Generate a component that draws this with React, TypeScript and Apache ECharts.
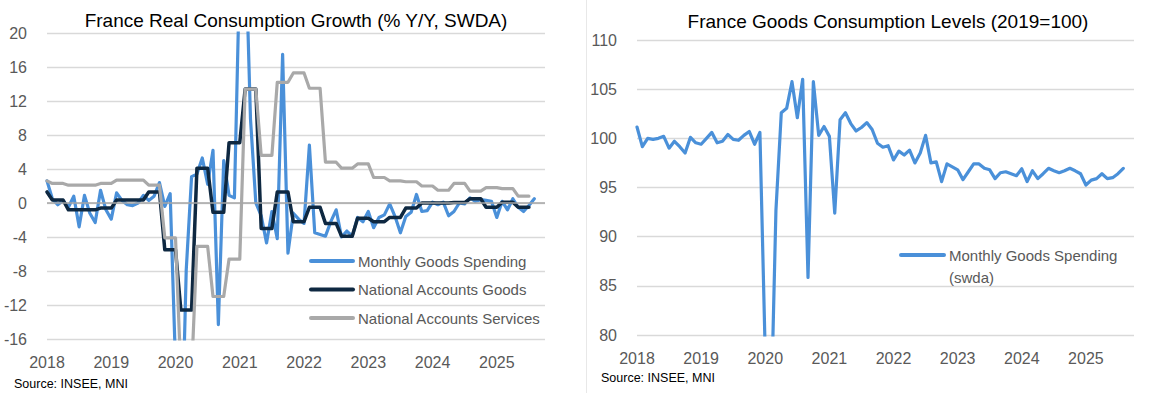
import React, { useEffect, useRef } from "react";
import * as echarts from "echarts";

// Monthly categories: Mar 2018 .. Dec 2025 (94 slots; data runs to Oct 2025)
const START_YEAR = 2018;
const START_MONTH = 3;
const N_SLOTS = 94;
const categories: string[] = [];
for (let i = 0; i < N_SLOTS; i++) {
  const k = START_MONTH - 1 + i;
  const y = START_YEAR + Math.floor(k / 12);
  const mo = (k % 12) + 1;
  categories.push(`${y}-${mo < 10 ? "0" + mo : mo}`);
}

// Left: Monthly goods spending, % y/y (Mar 2018 .. Oct 2025)
const goodsYoY: number[] = [
  2.6, 0.5, -0.2, 0.3, -0.5, 0.8, -2.8, 0.9, -1.2, -2.3,
  1.5, -0.8, -1.9, 1.2, 0.3, -0.2, -0.3, 0.0, 0.9, 0.3,
  0.8, 2.4, -0.4, 1.1, -19.0, -33.0, -7.9, 3.1, 3.4, 5.3,
  2.2, 6.2, -14.3, 5.0, 0.9, 0.6, 28.0, 32.0, 9.9, 0.0,
  -1.5, -4.7, -1.0, -4.2, 17.5, -5.9, -1.2, -1.9, -2.4, 6.8,
  -3.5, -3.7, -3.9, -2.2, -0.8, -4.0, -3.3, -3.9, -1.7, -2.2,
  -1.0, -2.9, -1.7, -1.4, -0.1, -1.6, -3.5, -1.6, -1.1, 1.0,
  -1.0, -0.9, 0.1, -0.2, 0.1, -1.5, -1.0, 0.0, -0.1, 0.6,
  0.2, 0.4, 0.3, 0.2, -1.7, 0.2, -0.8, 0.5, -0.5, -1.0,
  -0.3, 0.5,
];

// Left: National accounts goods, % y/y, quarterly Q1 2018 .. Q3 2025
const naGoodsQ: number[] = [
  1.3, 0.35, -0.8, -0.8, -0.6, 0.35, 0.35, 1.3, -5.5, -12.6,
  4.1, -1.1, 7.1, 13.4, -3.0, 1.3, -2.2, -0.5, -2.4, -3.9,
  -1.8, -2.2, -1.7, -0.6, 0.0, 0.0, 0.05, 0.5, -0.5, 0.1,
  -0.5,
];

// Left: National accounts services, % y/y, quarterly Q1 2018 .. Q3 2025
const naServicesQ: number[] = [
  2.6, 2.3, 2.1, 2.1, 2.3, 2.7, 2.7, 2.1, -4.1, -20.0,
  -5.1, -11.0, -6.6, 13.4, 5.6, 14.2, 15.3, 13.5, 4.8, 4.1,
  4.6, 3.0, 2.6, 2.5, 2.0, 1.5, 2.3, 1.4, 1.8, 1.7,
  0.8,
];

// Right: Goods consumption level (2019=100), Mar 2018 .. Oct 2025
const goodsLevel: number[] = [
  101.15, 99.15, 100.0, 99.9, 100.0, 100.2, 99.0, 99.7, 99.15, 98.5,
  100.1, 99.55, 99.4, 100.0, 100.6, 99.55, 99.7, 100.4, 99.9, 99.8,
  100.3, 100.7, 99.4, 100.6, 78.0, 70.0, 92.7, 102.6, 103.05, 105.76,
  102.1, 106.0, 85.86, 105.76, 100.3, 101.2, 100.2, 92.4, 101.9, 102.6,
  101.5, 100.75, 101.1, 101.6, 100.9, 99.5, 99.1, 99.25, 97.8, 98.7,
  98.3, 98.8, 97.5, 98.5, 100.3, 97.5, 97.6, 95.6, 97.4, 97.1,
  96.8, 95.8, 96.6, 97.4, 97.4, 96.95, 96.8, 95.9, 96.5, 96.6,
  96.4, 96.2, 96.9, 95.6, 96.7, 95.9, 96.4, 96.95, 96.7, 96.5,
  96.7, 96.95, 96.7, 96.4, 95.25, 95.75, 95.9, 96.4, 95.9, 96.0,
  96.4, 96.95,
];

const LEFT_TITLE = "France Real Consumption Growth (% Y/Y, SWDA)";
const RIGHT_TITLE = "France Goods Consumption Levels (2019=100)";
const SOURCE = "Source: INSEE, MNI";
const LEFT_NAMES = ["Monthly Goods Spending", "National Accounts Goods", "National Accounts Services"];
const RIGHT_NAME = "Monthly Goods Spending (swda)";

// expand quarterly values to the monthly slots (each month of a quarter holds its value)
function expandQuarterly(q: number[]): (number | null)[] {
  const out: (number | null)[] = [];
  for (let m = 0; m < N_SLOTS; m++) {
    const qi = Math.floor((m + START_MONTH - 1) / 3);
    out.push(qi < q.length ? q[qi] : null);
  }
  return out;
}

const FONT = "'Liberation Sans', Arial, sans-serif";
const BLUE = "#4a90d9";
const NAVY = "#0e2841";
const GRAY = "#a9a9a9";
const GRID = "#d9d9d9";
const LABEL = "#595959";

export default function App() {
  const ref = useRef<HTMLDivElement>(null);
  useEffect(() => {
    if (!ref.current) return;
    const chart = echarts.init(ref.current, null, { renderer: "svg" });
    const xAxisBase = (gridIndex: number) => ({
      type: "category",
      gridIndex,
      data: categories,
      boundaryGap: false,
      axisLine: { show: false },
      axisTick: { show: false },
      splitLine: { show: false },
      axisLabel: {
        interval: (i: number) => i % 12 === 0,
        formatter: (v: string) => v.slice(0, 4),
        fontSize: 16,
        color: LABEL,
        fontFamily: FONT,
        margin: 15,
      },
    });
    const yAxisBase = (gridIndex: number, min: number, max: number, interval: number) => ({
      type: "value",
      gridIndex,
      min,
      max,
      interval,
      axisLine: { show: false },
      axisTick: { show: false },
      axisLabel: { fontSize: 16, color: LABEL, fontFamily: FONT, margin: 20 },
      splitLine: { lineStyle: { color: GRID, width: 1.3 } },
    });
    const lineSeries = (name: string, data: any[], color: string, width: number, axis: number) => ({
      type: "line",
      name,
      data,
      xAxisIndex: axis,
      yAxisIndex: axis,
      symbol: "none",
      showSymbol: false,
      connectNulls: false,
      z: 2,
      lineStyle: { color, width, join: "round", cap: "round" },
      itemStyle: { color },
    });
    const legendCommon = {
      orient: "vertical",
      padding: 0,
      itemHeight: 14,
      selectedMode: false,
      itemStyle: { opacity: 0, color: "transparent", borderWidth: 0 },
      lineStyle: { width: 4, cap: "round" },
    };
    chart.setOption({
      animation: false,
      backgroundColor: "#ffffff",
      textStyle: { fontFamily: FONT },
      grid: [
        { left: 47, top: 33, width: 498, height: 306 },
        { left: 637, top: 40, width: 497, height: 295 },
      ],
      xAxis: [xAxisBase(0), xAxisBase(1)],
      yAxis: [yAxisBase(0, -16, 20, 4), yAxisBase(1, 80, 110, 5)],
      legend: [
        {
          ...legendCommon,
          data: LEFT_NAMES,
          left: 309,
          top: 253.5,
          itemWidth: 42,
          itemGap: 13.5,
          textStyle: { fontSize: 15, color: LABEL, fontFamily: FONT },
        },
        {
          ...legendCommon,
          data: [RIGHT_NAME],
          left: 899,
          top: 222,
          itemWidth: 43,
          formatter: () => " \nMonthly Goods Spending\n(swda)",
          textStyle: {
            fontSize: 15,
            color: LABEL,
            fontFamily: FONT,
            lineHeight: 22,
          },
        },
      ],
      graphic: [
        {
          type: "line",
          shape: { x1: 586.5, y1: 0, x2: 586.5, y2: 393 },
          style: { stroke: "#e8e8e8", lineWidth: 1 },
          silent: true,
        },
        {
          type: "text",
          x: 296,
          y: 20,
          style: { text: LEFT_TITLE, align: "center", verticalAlign: "middle", fontSize: 19, fontFamily: FONT, fill: "#000" },
        },
        {
          type: "text",
          x: 888,
          y: 21,
          style: { text: RIGHT_TITLE, align: "center", verticalAlign: "middle", fontSize: 19, fontFamily: FONT, fill: "#000" },
        },
        {
          type: "text",
          x: 14,
          y: 384,
          style: { text: SOURCE, align: "left", verticalAlign: "middle", fontSize: 12.5, fontFamily: FONT, fill: "#000" },
        },
        {
          type: "text",
          x: 601,
          y: 378,
          style: { text: SOURCE, align: "left", verticalAlign: "middle", fontSize: 12.5, fontFamily: FONT, fill: "#000" },
        },
      ],
      series: [
        {
          type: "line",
          name: "zero",
          data: [],
          xAxisIndex: 0,
          yAxisIndex: 0,
          z: 1,
          silent: true,
          markLine: {
            silent: true,
            symbol: ["none", "none"],
            label: { show: false },
            lineStyle: { color: "#a6a6a6", width: 1.5, type: "solid" },
            data: [{ yAxis: 0 }],
          },
        },
        lineSeries(LEFT_NAMES[0], goodsYoY, BLUE, 3.2, 0),
        lineSeries(LEFT_NAMES[1], expandQuarterly(naGoodsQ), NAVY, 3.5, 0),
        lineSeries(LEFT_NAMES[2], expandQuarterly(naServicesQ), GRAY, 3.2, 0),
        lineSeries(RIGHT_NAME, goodsLevel, BLUE, 3.2, 1),
      ],
    });
    return () => chart.dispose();
  }, []);
  return (
    <div
      ref={ref}
      style={{ position: "absolute", left: 0, top: 0, width: 1156, height: 393, background: "#fff" }}
    />
  );
}
